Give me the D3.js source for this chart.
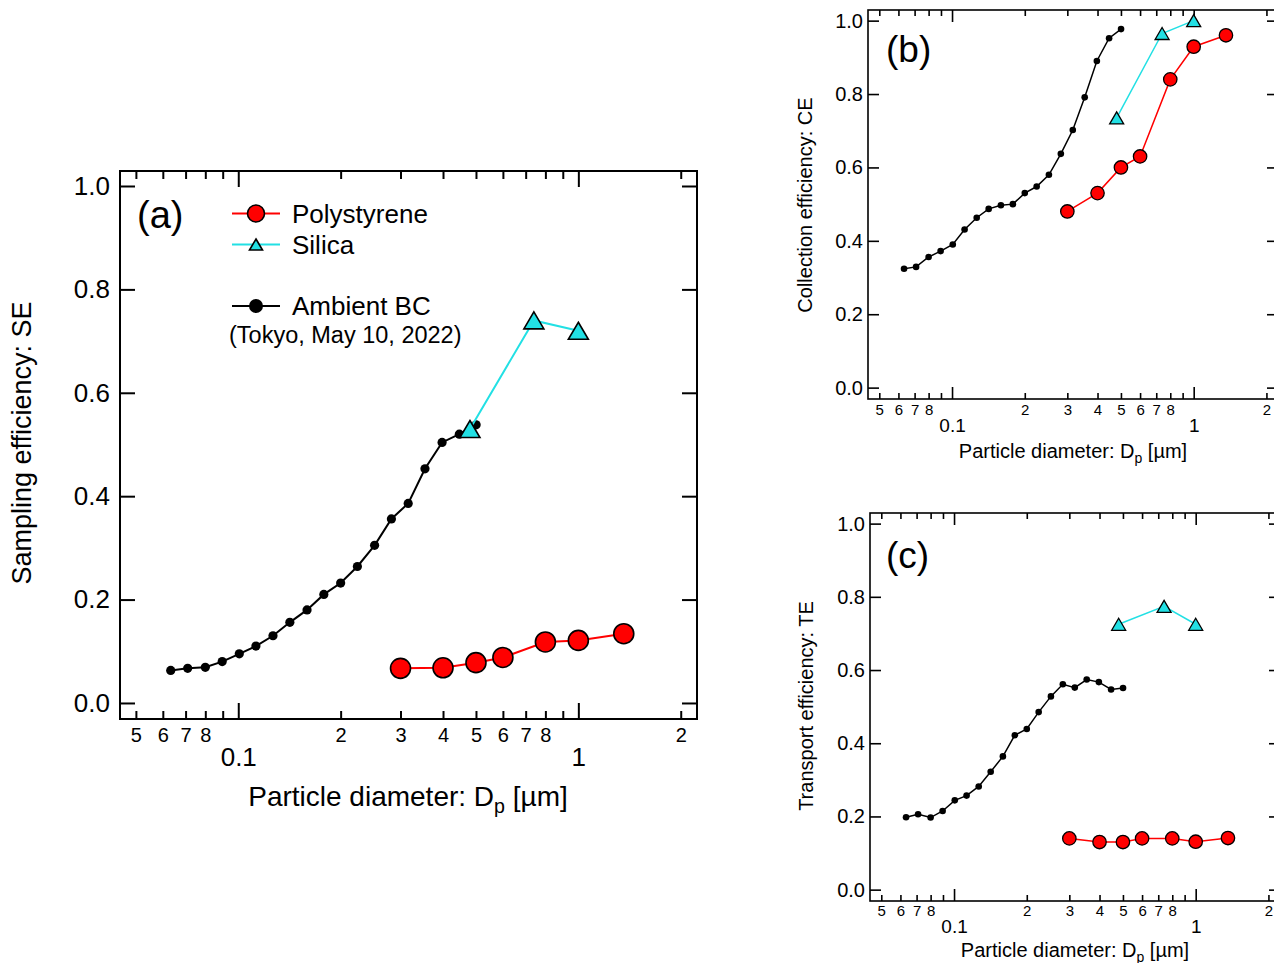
<!DOCTYPE html>
<html><head><meta charset="utf-8">
<script src="https://cdn.jsdelivr.net/npm/d3@7"></script>
<style>
body{margin:0;background:#fff}
svg{display:block}
text{font-family:"Liberation Sans",Arial,Helvetica,sans-serif;fill:#000}
</style>
</head><body>
<svg id="chart" width="1274" height="963"></svg>
<script>
// ---------------- DATA ----------------
const bcDiameter = [0.0633,0.0710,0.0800,0.0897,0.1007,0.1127,0.1265,0.1418,0.1593,0.1785,0.2000,0.2240,0.2517,0.2820,0.3160,0.3540,0.3975,0.4466,0.5005];
const bcSE = [0.063,0.067,0.069,0.080,0.095,0.110,0.130,0.156,0.180,0.210,0.232,0.264,0.305,0.356,0.386,0.453,0.504,0.520,0.538];
const bcCE = [0.324,0.329,0.356,0.372,0.390,0.431,0.463,0.487,0.497,0.500,0.530,0.548,0.580,0.637,0.702,0.791,0.890,0.952,0.977];
const bcTE = [0.198,0.206,0.197,0.215,0.244,0.257,0.282,0.322,0.364,0.422,0.439,0.485,0.528,0.561,0.552,0.574,0.567,0.547,0.551];

const psDiameter = [0.30,0.40,0.50,0.60,0.80,1.00,1.36];
const psSE = [0.067,0.068,0.078,0.088,0.118,0.121,0.134];
const psCE = [0.480,0.530,0.600,0.630,0.840,0.929,0.960];
const psTE = [0.140,0.130,0.130,0.140,0.140,0.131,0.141];

const siDiameter = [0.48,0.74,1.00];
const siSE = [0.530,0.740,0.720];
const siCE = [0.735,0.965,1.000];
const siTE = [0.725,0.774,0.725];

const yTickValues = [0,0.2,0.4,0.6,0.8,1.0];
const xMinorTicks = [0.05,0.06,0.07,0.08,0.09,0.2,0.3,0.4,0.5,0.6,0.7,0.8,0.9,2];
const xMinorTickLabels = ["5","6","7","8","","2","3","4","5","6","7","8","","2"];
const xMajorTicks = [0.1,1];
const xMajorTickLabels = ["0.1","1"];

const xDomain = [0.0449,2.233];
const yDomain = [-0.031,1.029];

const RED = "#ff0000", CYAN = "#22e0e4";

// ---------------- DRAW ----------------
const svg = d3.select("#chart");

function triPath(w,h){ return `M0,${-h/2}L${w/2},${h/2}L${-w/2},${h/2}Z`; }

function drawPanel(c){
  const x = d3.scaleLog().domain(xDomain).range([c.left,c.right]);
  const y = d3.scaleLinear().domain(yDomain).range([c.bottom,c.top]);
  const g = svg.append("g");

  const styleAxis = (sel, fs) => {
    sel.select(".domain").remove();
    sel.selectAll(".tick line").attr("stroke","#000").attr("stroke-width",c.lw);
    sel.selectAll(".tick text").attr("font-size",fs).attr("font-family",'"Liberation Sans",Arial,sans-serif').attr("fill","#000");
  };

  g.append("g").attr("transform",`translate(${c.left},0)`)
    .call(d3.axisLeft(y).tickValues(yTickValues).tickSizeInner(-c.yTick).tickSizeOuter(0)
      .tickPadding(c.yPad).tickFormat(d3.format(".1f")))
    .call(s=>styleAxis(s,c.yFont));
  g.append("g").attr("transform",`translate(${c.right},0)`)
    .call(d3.axisRight(y).tickValues(yTickValues).tickSizeInner(-c.yTick).tickSizeOuter(0).tickFormat(""))
    .call(s=>styleAxis(s,c.yFont));
  g.append("g").attr("transform",`translate(0,${c.top})`)
    .call(d3.axisTop(x).tickValues(xMinorTicks).tickSizeInner(-c.xMinor).tickSizeOuter(0).tickFormat(""))
    .call(s=>styleAxis(s,10));
  g.append("g").attr("transform",`translate(0,${c.top})`)
    .call(d3.axisTop(x).tickValues(xMajorTicks).tickSizeInner(-c.xMajor).tickSizeOuter(0).tickFormat(""))
    .call(s=>styleAxis(s,10));
  g.append("g").attr("transform",`translate(0,${c.bottom})`)
    .call(d3.axisBottom(x).tickValues(xMinorTicks).tickSizeInner(-c.xMinor).tickSizeOuter(0)
      .tickPadding(c.minorPad).tickFormat((d,i)=>xMinorTickLabels[i]))
    .call(s=>styleAxis(s,c.minorFont));
  g.append("g").attr("transform",`translate(0,${c.bottom})`)
    .call(d3.axisBottom(x).tickValues(xMajorTicks).tickSizeInner(-c.xMajor).tickSizeOuter(0)
      .tickPadding(c.majorPad).tickFormat((d,i)=>xMajorTickLabels[i]))
    .call(s=>styleAxis(s,c.majorFont));

  g.append("rect").attr("x",c.left).attr("y",c.top)
    .attr("width",c.right-c.left).attr("height",c.bottom-c.top)
    .attr("fill","none").attr("stroke","#000").attr("stroke-width",c.lw);

  const xt = g.append("text").attr("x",c.xTitleX).attr("y",c.xTitleY)
    .attr("text-anchor","middle").attr("font-size",c.titleFont);
  xt.append("tspan").text("Particle diameter: D");
  xt.append("tspan").attr("font-size",c.titleFont*0.7).attr("dy",c.titleFont*0.25).text("p");
  xt.append("tspan").attr("dy",-c.titleFont*0.25).text(" [µm]");
  g.append("text").attr("transform",`translate(${c.yTitleX},${c.yTitleY}) rotate(-90)`)
    .attr("text-anchor","middle").attr("font-size",c.yTitleFont).text(c.yTitle);
  g.append("text").attr("x",c.tagX).attr("y",c.tagY).attr("font-size",c.tagFont).text(c.tag);

  const line = d3.line().x(d=>x(d[0])).y(d=>y(d[1]));
  const bc = d3.zip(bcDiameter,c.bc), si = d3.zip(siDiameter,c.si), ps = d3.zip(psDiameter,c.ps);

  g.append("path").datum(bc).attr("d",line).attr("fill","none").attr("stroke","#000").attr("stroke-width",c.lineW);
  g.selectAll(null).data(bc).join("circle").attr("cx",d=>x(d[0])).attr("cy",d=>y(d[1]))
    .attr("r",c.bcR).attr("fill","#000");
  g.append("path").datum(si).attr("d",line).attr("fill","none").attr("stroke",CYAN).attr("stroke-width",c.lineW);
  g.selectAll(null).data(si).join("path").attr("d",triPath(c.triW,c.triH))
    .attr("transform",d=>`translate(${x(d[0])},${y(d[1])})`)
    .attr("fill",CYAN).attr("stroke","#000").attr("stroke-width",c.mkStroke);
  g.append("path").datum(ps).attr("d",line).attr("fill","none").attr("stroke",RED).attr("stroke-width",c.lineW);
  g.selectAll(null).data(ps).join("circle").attr("cx",d=>x(d[0])).attr("cy",d=>y(d[1]))
    .attr("r",c.psR).attr("fill",RED).attr("stroke","#000").attr("stroke-width",c.mkStroke);
  return {x,y,g};
}

drawPanel({left:120,right:697,top:171,bottom:719,lw:2,yTick:15,yPad:10,yFont:26,
  xMinor:8,xMajor:16,minorPad:9,minorFont:20,majorPad:29,majorFont:26,
  titleFont:28,xTitleX:408,xTitleY:806,yTitle:"Sampling efficiency: SE",yTitleFont:27,yTitleX:31,yTitleY:443,
  tag:"(a)",tagX:137,tagY:228,tagFont:38,
  bc:bcSE,si:siSE,ps:psSE,lineW:2,bcR:4.6,psR:10,triW:20,triH:17,mkStroke:1.6});

drawPanel({left:868,right:1278,top:10,bottom:399,lw:1.6,yTick:11,yPad:5,yFont:20,
  xMinor:6,xMajor:12,minorPad:5,minorFont:15,majorPad:20,majorFont:19,
  titleFont:20,xTitleX:1073,xTitleY:458,yTitle:"Collection efficiency: CE",yTitleFont:20,yTitleX:812,yTitleY:205,
  tag:"(b)",tagX:886,tagY:62,tagFont:37,
  bc:bcCE,si:siCE,ps:psCE,lineW:1.5,bcR:3.3,psR:6.7,triW:14,triH:12,mkStroke:1.3});

drawPanel({left:870,right:1280,top:513,bottom:901,lw:1.6,yTick:11,yPad:5,yFont:20,
  xMinor:6,xMajor:12,minorPad:4,minorFont:15,majorPad:19,majorFont:19,
  titleFont:20,xTitleX:1075,xTitleY:957,yTitle:"Transport efficiency: TE",yTitleFont:20,yTitleX:813,yTitleY:706,
  tag:"(c)",tagX:886,tagY:568,tagFont:37,
  bc:bcTE,si:siTE,ps:psTE,lineW:1.5,bcR:3.3,psR:6.7,triW:14,triH:12,mkStroke:1.3});

// ---------------- LEGEND (panel a) ----------------
const legendItems = [
  {label:"Polystyrene", color:RED, marker:"circle", y:213.5},
  {label:"Silica", color:CYAN, marker:"triangle", y:244.5},
  {label:"Ambient BC", color:"#000", marker:"dot", y:306}
];
const lg = svg.append("g");
legendItems.forEach(it=>{
  lg.append("line").attr("x1",232).attr("x2",280).attr("y1",it.y).attr("y2",it.y)
    .attr("stroke",it.color).attr("stroke-width",2);
  if(it.marker==="circle") lg.append("circle").attr("cx",256).attr("cy",it.y).attr("r",8.5)
    .attr("fill",RED).attr("stroke","#000").attr("stroke-width",1.6);
  else if(it.marker==="triangle") lg.append("path").attr("d",triPath(13,11))
    .attr("transform",`translate(256,${it.y})`).attr("fill",CYAN).attr("stroke","#000").attr("stroke-width",1.6);
  else lg.append("circle").attr("cx",256).attr("cy",it.y).attr("r",7).attr("fill","#000");
  lg.append("text").attr("x",292).attr("y",it.y+9.3).attr("font-size",26).text(it.label);
});
lg.append("text").attr("x",229).attr("y",343).attr("font-size",23.5).text("(Tokyo, May 10, 2022)");
</script>
</body></html>
